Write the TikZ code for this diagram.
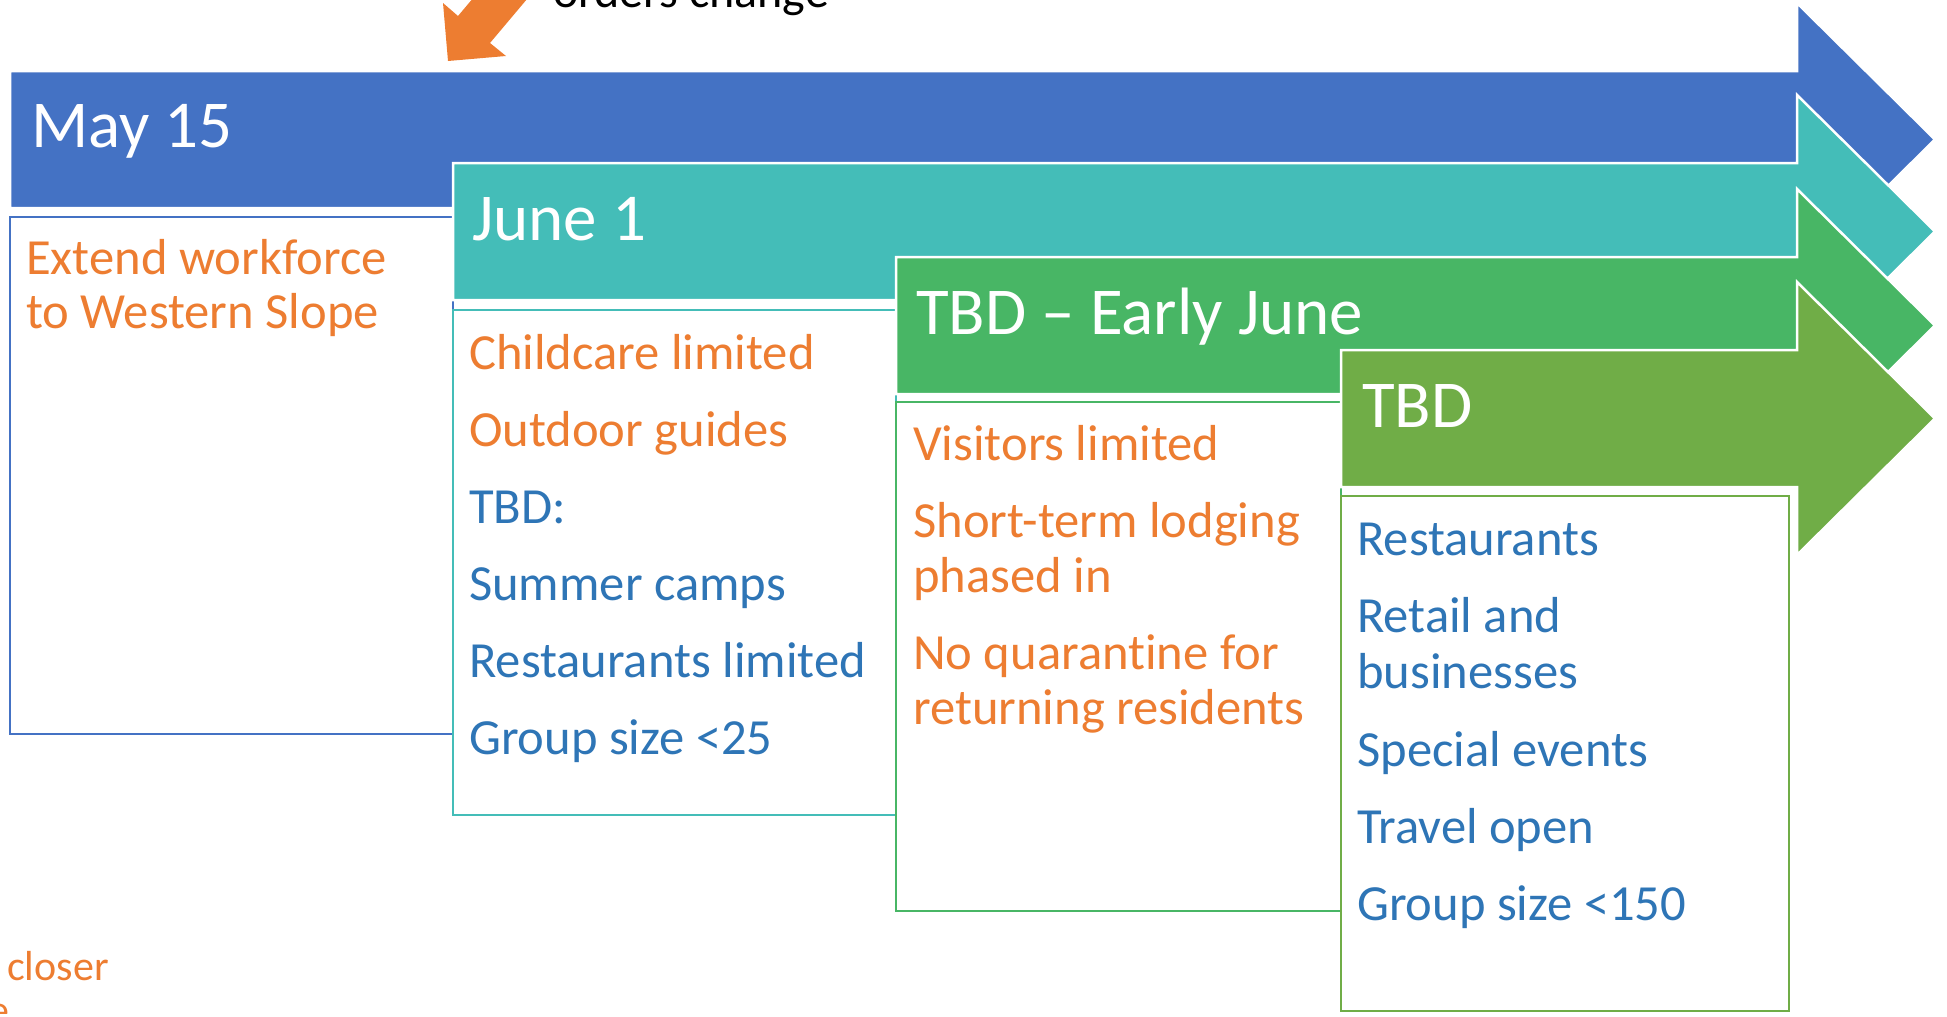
\documentclass[tikz,border=0pt]{standalone}
\usepackage{fontspec}
\setmainfont{Carlito}[Ligatures={NoCommon}]
\definecolor{cblue}{HTML}{4472C4}
\definecolor{cteal}{RGB}{68,189,184}
\definecolor{cgreen}{RGB}{72,182,101}
\definecolor{clgreen}{HTML}{70AD47}
\definecolor{corange}{HTML}{ED7D31}
\definecolor{tblue}{HTML}{2E75B6}
\tikzset{
  body/.style={anchor=base west, inner sep=0pt, font=\fontsize{50.6}{55}\selectfont},
  otxt/.style={body, text=corange},
  btxt/.style={body, text=tblue},
  ttl/.style={anchor=base west, inner sep=0pt, text=white, font=\fontsize{67}{72}\selectfont},
  phase/.style={draw=white, line width=2.5pt, line join=miter},
  panel/.style={fill=white, line width=2.2pt}
}
\begin{document}
\begin{tikzpicture}[x=1pt,y=-1pt]
\useasboundingbox (0,0) rectangle (1947,1017);
\clip (0,0) rectangle (1947,1017);

% orange pointer arrow
\fill[corange] (448,61) -- (443,3) -- (458,16) -- (522,-60) -- (554,-33) -- (490,43) -- (506,56) -- cycle;
\node[anchor=base west, inner sep=0pt, font=\fontsize{48}{52}\selectfont] (orders) at (553,8) {orders change};

% phase 1
\path[phase, fill=cblue] (10,71) -- (1797,71) -- (1797,3) -- (1935,139.5) -- (1797,276) -- (1797,208) -- (10,208) -- cycle;
\draw[panel, draw=cblue] (10,217) rectangle (453,734);
\node[ttl] (t1) at (31,147) {May 15};
\node[otxt] (a1) at (26,274) {Extend workforce};
\node[otxt] (a2) at (26,328) {to Western Slope};

% phase 2
\path[phase, fill=cteal] (453,163) -- (1797,163) -- (1797,95) -- (1935,231.5) -- (1797,368) -- (1797,300) -- (453,300) -- cycle;
\draw[panel, draw=cteal] (453,310) rectangle (896,815);
\node[ttl] (t2) at (472,240) {June 1};
\node[otxt] (b1) at (469,369) {Childcare limited};
\node[otxt] (b2) at (469,446) {Outdoor guides};
\node[btxt] (b3) at (469,523) {TBD:};
\node[btxt] (b4) at (469,600) {Summer camps};
\node[btxt] (b5) at (469,677) {Restaurants limited};
\node[btxt] (b6) at (469,754) {Group size <25};

% phase 3
\path[phase, fill=cgreen] (896,257) -- (1797,257) -- (1797,189) -- (1935,325.5) -- (1797,462) -- (1797,394) -- (896,394) -- cycle;
\draw[panel, draw=cgreen] (896,402) rectangle (1341,911);
\node[ttl] (t3) at (916,334) {TBD – Early June};
\node[otxt] (c1) at (913,460) {Visitors limited};
\node[otxt] (c2) at (913,537) {Short-term lodging};
\node[otxt] (c3) at (913,592) {phased in};
\node[otxt] (c4) at (913,669) {No quarantine for};
\node[otxt] (c5) at (913,724) {returning residents};

% phase 4
\path[phase, fill=clgreen] (1341,350) -- (1797,350) -- (1797,282) -- (1935,418.5) -- (1797,555) -- (1797,487) -- (1341,487) -- cycle;
\draw[panel, draw=clgreen] (1341,496) rectangle (1789,1011);
\node[ttl] (t4) at (1362,427) {TBD};
\node[btxt] (d1) at (1357,555) {Restaurants};
\node[btxt] (d2) at (1357,632) {Retail and};
\node[btxt] (d3) at (1357,688) {businesses};
\node[btxt] (d4) at (1357,766) {Special events};
\node[btxt] (d5) at (1357,843) {Travel open};
\node[btxt] (d6) at (1357,920) {Group size <150};

% cut-off note at bottom left
\node[anchor=base west, inner sep=0pt, text=corange, font=\fontsize{42}{46}\selectfont] (n1) at (7,980) {closer};
\node[anchor=base east, inner sep=0pt, text=corange, font=\fontsize{42}{46}\selectfont] (n2) at (10,1024) {e};
\end{tikzpicture}
\end{document}
